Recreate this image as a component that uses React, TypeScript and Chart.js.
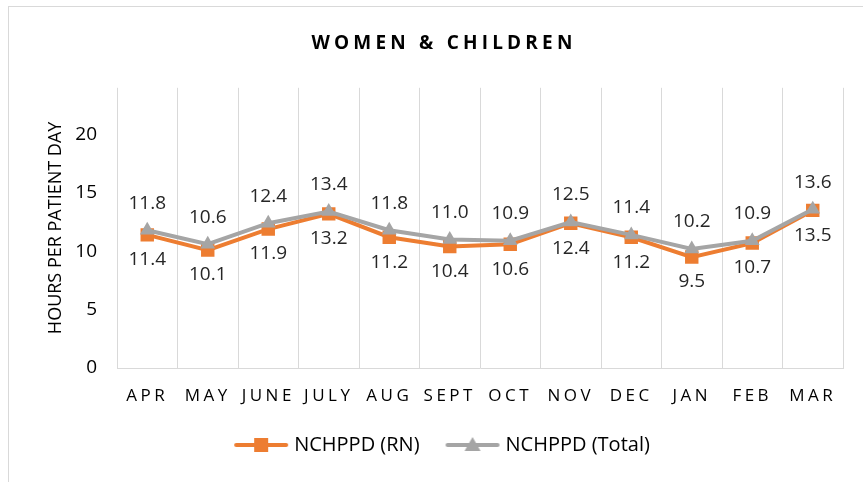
import React, { useEffect, useRef } from "react";
import { Chart, registerables } from "chart.js";

Chart.register(...registerables);

const titleText = "WOMEN & CHILDREN";
const yAxisTitle = "HOURS PER PATIENT DAY";
const months = ["APR", "MAY", "JUNE", "JULY", "AUG", "SEPT", "OCT", "NOV", "DEC", "JAN", "FEB", "MAR"];
const rnLabel = "NCHPPD (RN)";
const totalLabel = "NCHPPD (Total)";
const rnValues = [11.4, 10.1, 11.9, 13.2, 11.2, 10.4, 10.6, 12.4, 11.2, 9.5, 10.7, 13.5];
const totalValues = [11.8, 10.6, 12.4, 13.4, 11.8, 11.0, 10.9, 12.5, 11.4, 10.2, 10.9, 13.6];
const yTicks = [0, 5, 10, 15, 20];

const ORANGE = "#ED7D31";
const GRAY = "#A5A5A5";
const FONT = "'Open Sans', sans-serif";

function legendIcon(color: string, shape: "rect" | "triangle"): HTMLCanvasElement {
  const c = document.createElement("canvas");
  c.width = 56;
  c.height = 20;
  const g = c.getContext("2d")!;
  g.strokeStyle = color;
  g.lineWidth = 4;
  g.lineCap = "round";
  g.beginPath();
  g.moveTo(3, 10);
  g.lineTo(53, 10);
  g.stroke();
  g.fillStyle = color;
  if (shape === "rect") {
    g.fillRect(21, 3, 14, 14);
  } else {
    g.beginPath();
    g.moveTo(28, 2);
    g.lineTo(36, 16);
    g.lineTo(20, 16);
    g.closePath();
    g.fill();
  }
  return c;
}

const spacingPlugin = {
  id: "letterSpacing",
  afterUpdate(chart: any) {
    const ctx = chart.ctx;
    const x = chart.scales.x;
    if (x && !x.__spaced) {
      const orig = x.drawLabels;
      x.drawLabels = function (area: any) {
        ctx.save();
        (ctx as any).letterSpacing = "3.5px";
        orig.call(this, area);
        ctx.restore();
      };
      x.__spaced = true;
    }
    const t = chart.titleBlock;
    if (t && !t.__spaced) {
      const origT = t.draw;
      t.draw = function () {
        ctx.save();
        (ctx as any).letterSpacing = "4.2px";
        origT.call(this);
        ctx.restore();
      };
      t.__spaced = true;
    }
  },
};

const dataLabelPlugin = {
  id: "dataLabels",
  afterDatasetsDraw(chart: any) {
    const ctx = chart.ctx;
    ctx.save();
    ctx.font = `19px ${FONT}`;
    ctx.fillStyle = "#262626";
    ctx.textAlign = "center";
    ctx.textBaseline = "middle";
    chart.data.datasets.forEach((ds: any, di: number) => {
      const meta = chart.getDatasetMeta(di);
      const offset = di === 0 ? 25 : -27;
      meta.data.forEach((el: any, i: number) => {
        ctx.fillText(Number(ds.data[i]).toFixed(1), el.x, el.y + offset);
      });
    });
    ctx.restore();
  },
};

export default function App() {
  const ref = useRef<HTMLCanvasElement>(null);
  useEffect(() => {
    if (!ref.current) return;
    const icons = [legendIcon(ORANGE, "rect"), legendIcon(GRAY, "triangle")];
    const chart = new Chart(ref.current, {
      type: "line",
      data: {
        labels: months,
        datasets: [
          {
            label: rnLabel,
            data: rnValues,
            borderColor: ORANGE,
            backgroundColor: ORANGE,
            borderWidth: 4,
            pointStyle: "rect",
            pointRadius: 9.5,
            pointBorderWidth: 0,
            pointBackgroundColor: ORANGE,
            tension: 0,
            order: 1,
          },
          {
            label: totalLabel,
            data: totalValues,
            borderColor: GRAY,
            backgroundColor: GRAY,
            borderWidth: 4,
            pointStyle: "triangle",
            pointRadius: 8.5,
            pointBorderWidth: 0,
            pointBackgroundColor: GRAY,
            tension: 0,
            order: 0,
          },
        ],
      },
      options: {
        responsive: false,
        maintainAspectRatio: false,
        animation: false,
        devicePixelRatio: 1,
        layout: { padding: { left: 45, right: 20, top: 0, bottom: 17 } },
        plugins: {
          title: {
            display: true,
            text: titleText,
            color: "#000000",
            font: { family: FONT, size: 19, weight: "bold" },
            padding: { top: 32, bottom: 33 },
          },
          legend: {
            position: "bottom",
            labels: {
              usePointStyle: true,
              pointStyleWidth: 46,
              padding: 30,
              color: "#000000",
              font: { family: FONT, size: 20 },
              generateLabels: () => [
                { text: rnLabel, pointStyle: icons[0], fillStyle: ORANGE, strokeStyle: ORANGE, lineWidth: 0, hidden: false, datasetIndex: 0 },
                { text: totalLabel, pointStyle: icons[1], fillStyle: GRAY, strokeStyle: GRAY, lineWidth: 0, hidden: false, datasetIndex: 1 },
              ] as any,
            },
          },
          tooltip: { enabled: false },
        },
        scales: {
          x: {
            offset: true,
            grid: { display: true, offset: true, color: "#d9d9d9", lineWidth: 1, drawTicks: false },
            border: { display: true, color: "#d9d9d9", width: 1 },
            ticks: { color: "#000000", font: { family: FONT, size: 17 }, padding: 18, maxRotation: 0, autoSkip: false },
            afterFit: (s: any) => { s.height = 37; },
          },
          y: {
            min: 0,
            max: 24,
            ticks: { stepSize: 5, color: "#000000", font: { family: FONT, size: 19 }, padding: 20 },
            afterBuildTicks: (s: any) => { s.ticks = yTicks.map((v) => ({ value: v })); },
            grid: { display: false, drawTicks: false },
            border: { display: false },
            title: { display: true, text: yAxisTitle, color: "#000000", font: { family: FONT, size: 18 }, padding: 0 },
            afterFit: (s: any) => { s.width = 72; },
          },
        },
      },
      plugins: [spacingPlugin, dataLabelPlugin],
    });
    return () => chart.destroy();
  }, []);
  return (
    <div style={{ position: "fixed", left: 0, top: 0, width: 863, height: 482, background: "#fff", overflow: "hidden" }}>
      <div style={{ position: "absolute", left: 8, top: 6, width: 900, height: 520, border: "1px solid #d9d9d9", boxSizing: "border-box" }} />
      <canvas ref={ref} width={863} height={482} style={{ position: "absolute", left: 0, top: 0, width: 863, height: 482 }} />
    </div>
  );
}
